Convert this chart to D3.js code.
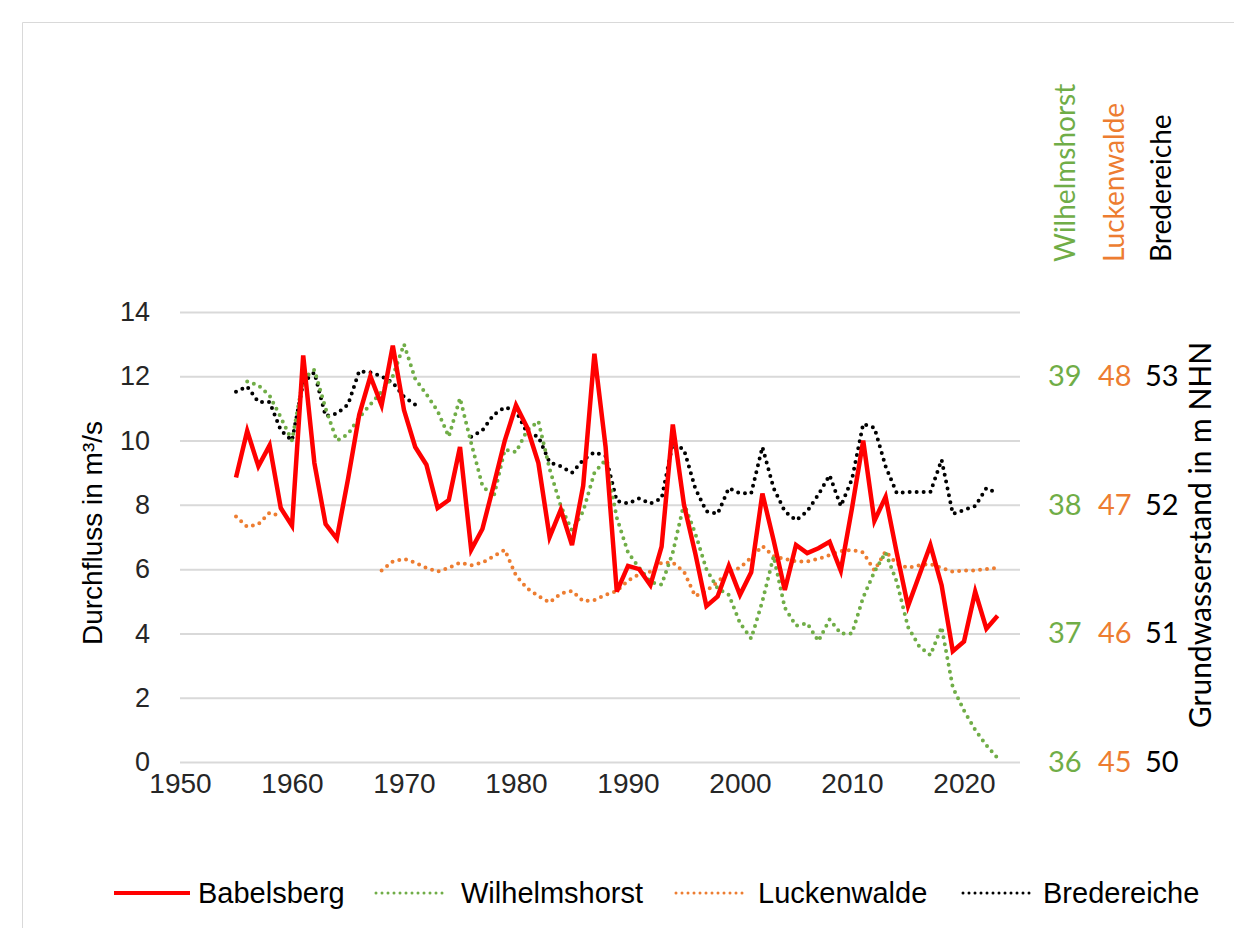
<!DOCTYPE html>
<html>
<head>
<meta charset="utf-8">
<script src="https://cdn.jsdelivr.net/npm/d3@7"></script>
<style>
  body { margin: 0; background: #fff; }
  svg { display: block; }
</style>
</head>
<body>
<script>
// Jahresmittel, 1955-2023
var years = d3.range(1955, 2024);

// Durchfluss Babelsberg in m³/s
var babelsberg = [
  8.85, 10.3, 9.2, 9.85, 7.9, 7.35, 12.65, 9.3, 7.4, 6.95,
  8.8, 10.8, 12.0, 11.1, 12.95, 10.95, 9.8, 9.25, 7.9, 8.15,
  9.8, 6.6, 7.25, 8.6, 10.0, 11.1, 10.4, 9.3, 7.0, 7.85,
  6.75, 8.6, 12.7, 9.8, 5.3, 6.1, 6.0, 5.5, 6.7, 10.5,
  8.0, 6.5, 4.85, 5.15, 6.1, 5.2, 5.9, 8.35, 6.9, 5.35,
  6.75, 6.5, 6.65, 6.85, 5.95, 7.9, 10.0, 7.5, 8.25, 6.5,
  4.85, 5.8, 6.75, 5.5, 3.45, 3.75, 5.3, 4.15, 4.55
];

// Grundwasserstand in m NHN
var wilhelmshorst = [
  null, 38.96, 38.93, 38.85, 38.68, 38.50, 38.98, 39.05, 38.75, 38.50,
  38.55, 38.68, 38.78, 38.88, 39.00, 39.25, 38.98, 38.86, 38.73, 38.53,
  38.83, 38.48, 38.15, 38.06, 38.43, 38.41, 38.58, 38.65, 38.28, 37.99,
  37.80, 37.95, 38.25, 38.35, 37.90, 37.63, 37.51, 37.40, 37.38, 37.63,
  38.01, 37.78, 37.50, 37.35, 37.30, 37.08, 36.96, 37.25, 37.60, 37.20,
  37.06, 37.08, 36.94, 37.11, 37.00, 37.00, 37.28, 37.48, 37.63, 37.40,
  37.05, 36.90, 36.83, 37.05, 36.58, 36.40, 36.25, 36.13, 36.03
];

var luckenwalde = [
  46.91, 46.83, 46.85, 46.94, 46.91, null, null, null, null, null,
  null, null, null, 46.49, 46.56, 46.58, 46.55, 46.51, 46.48, 46.51,
  46.55, 46.53, 46.55, 46.60, 46.65, 46.45, 46.35, 46.29, 46.24, 46.31,
  46.33, 46.25, 46.26, 46.30, 46.33, 46.41, 46.46, 46.48, 46.55, 46.55,
  46.48, 46.29, 46.33, 46.40, 46.48, 46.51, 46.59, 46.68, 46.60, 46.58,
  46.56, 46.56, 46.58, 46.61, 46.64, 46.65, 46.63, 46.49, 46.64, 46.54,
  46.51, 46.53, 46.54, 46.51, 46.48, 46.49, 46.49, 46.50, 46.51
];

var bredereiche = [
  52.88, 52.92, 52.80, 52.80, 52.58, 52.50, 52.95, 53.03, 52.69, 52.71,
  52.78, 53.04, 53.03, 53.00, 52.95, 52.84, 52.78, null, null, null,
  null, 52.53, 52.58, 52.70, 52.76, 52.73, 52.56, 52.53, 52.33, 52.30,
  52.25, 52.35, 52.41, 52.38, 52.03, 52.01, 52.05, 52.01, 52.05, 52.48,
  52.43, 52.13, 51.95, 51.93, 52.13, 52.09, 52.09, 52.45, 52.13, 51.95,
  51.88, 51.95, 52.08, 52.23, 51.99, 52.20, 52.63, 52.60, 52.30, 52.09,
  52.10, 52.10, 52.10, 52.35, 51.93, 51.96, 51.99, 52.13, 52.09
];

var xTicks = [1950, 1960, 1970, 1980, 1990, 2000, 2010, 2020];
var leftTicks = [0, 2, 4, 6, 8, 10, 12, 14];
var wTicks = [36, 37, 38, 39];
var lTicks = [45, 46, 47, 48];
var bTicks = [50, 51, 52, 53];
var legendNames = ["Babelsberg", "Wilhelmshorst", "Luckenwalde", "Bredereiche"];

var width = 1244;
var height = 928;
var margin = { top: 312, bottom: 166, left: 180, right: 224 };
var innerW = width - margin.left - margin.right;
var innerH = height - margin.top - margin.bottom;

var green = "#70ad47";
var orange = "#ed7d31";
var red = "#ff0000";
var arial = "Liberation Sans, Arial, sans-serif";

var svg = d3.select("body")
    .append("svg")
    .attr("width", width)
    .attr("height", height);

// feiner Rahmen wie im Original
svg.append("path")
    .attr("d", "M22.5," + height + "V22.5H" + (width - 10))
    .attr("fill", "none")
    .attr("stroke", "#d9d9d9")
    .attr("stroke-width", 1);

var chart = svg.append("g")
    .attr("transform", "translate(" + margin.left + "," + margin.top + ")");

var x = d3.scaleLinear().domain([1950, 2025]).range([0, innerW]);
var y = d3.scaleLinear().domain([0, 14]).range([innerH, 0]);
var yW = d3.scaleLinear().domain([36, 39.5]).range([innerH, 0]);
var yL = d3.scaleLinear().domain([45, 48.5]).range([innerH, 0]);
var yB = d3.scaleLinear().domain([50, 53.5]).range([innerH, 0]);

// Gitterlinien
chart.append("g")
    .attr("class", "grid")
    .call(d3.axisLeft(y).tickValues(leftTicks).tickSize(-innerW).tickFormat(""))
    .call(function (g) {
        g.select(".domain").remove();
        g.selectAll("line").attr("stroke", "#d9d9d9").attr("stroke-width", 2);
    });

// linke Achse
chart.append("g")
    .call(d3.axisLeft(y).tickValues(leftTicks).tickSize(0).tickPadding(30))
    .call(function (g) {
        g.select(".domain").remove();
        g.selectAll("text")
            .attr("fill", "#262626")
            .style("font-family", arial)
            .style("font-size", "27px");
    });

// x-Achse
chart.append("g")
    .attr("transform", "translate(0," + innerH + ")")
    .call(d3.axisBottom(x).tickValues(xTicks).tickSize(0).tickPadding(11).tickFormat(d3.format("d")))
    .call(function (g) {
        g.select(".domain").remove();
        g.selectAll("text")
            .attr("fill", "#262626")
            .style("font-family", arial)
            .style("font-size", "28px");
    });

// rechte Achsen
function rightAxis(scale, ticks, pad, color) {
    chart.append("g")
        .attr("transform", "translate(" + innerW + ",0)")
        .call(d3.axisRight(scale).tickValues(ticks).tickSize(0).tickPadding(pad).tickFormat(d3.format("d")))
        .call(function (g) {
            g.select(".domain").remove();
            g.selectAll("text")
                .attr("fill", color)
                .style("font-family", "Lato, sans-serif")
                .style("font-size", "29px");
        });
}
rightAxis(yW, wTicks, 28, green);
rightAxis(yL, lTicks, 78, orange);
rightAxis(yB, bTicks, 125, "#000");

// Achsentitel
svg.append("text")
    .attr("transform", "translate(102,533) rotate(-90)")
    .style("text-anchor", "middle")
    .style("font-family", arial)
    .style("font-size", "28px")
    .attr("fill", "#000")
    .text("Durchfluss in m³/s");

svg.append("text")
    .attr("transform", "translate(1211,535) rotate(-90)")
    .style("text-anchor", "middle")
    .style("font-family", "Lato, sans-serif")
    .style("font-size", "30px")
    .attr("fill", "#000")
    .text("Grundwasserstand  in m NHN");

var stationLabels = [
    { name: legendNames[1], x: 1075, color: green },
    { name: legendNames[2], x: 1124, color: orange },
    { name: legendNames[3], x: 1171, color: "#000" }
];
svg.selectAll(".station")
    .data(stationLabels)
    .enter()
    .append("text")
    .attr("class", "station")
    .attr("transform", function (d) { return "translate(" + d.x + ",262) rotate(-90)"; })
    .style("font-family", "Lato, sans-serif")
    .style("font-size", "28px")
    .attr("fill", function (d) { return d.color; })
    .text(function (d) { return d.name; });

// Linien
function lineFor(scale) {
    return d3.line()
        .defined(function (d) { return d.v != null; })
        .x(function (d) { return x(d.year); })
        .y(function (d) { return scale(d.v); });
}
function rows(values) {
    return years.map(function (yr, i) { return { year: yr, v: values[i] }; });
}

var dotted = "0 7";

chart.append("path")
    .datum(rows(luckenwalde))
    .attr("fill", "none")
    .attr("stroke", orange)
    .attr("stroke-width", 4)
    .attr("stroke-linecap", "round")
    .attr("stroke-dasharray", dotted)
    .attr("d", lineFor(yL));

chart.append("path")
    .datum(rows(bredereiche))
    .attr("fill", "none")
    .attr("stroke", "#000")
    .attr("stroke-width", 4)
    .attr("stroke-linecap", "round")
    .attr("stroke-dasharray", dotted)
    .attr("d", lineFor(yB));

chart.append("path")
    .datum(rows(wilhelmshorst))
    .attr("fill", "none")
    .attr("stroke", green)
    .attr("stroke-width", 4)
    .attr("stroke-linecap", "round")
    .attr("stroke-dasharray", dotted)
    .attr("d", lineFor(yW));

chart.append("path")
    .datum(rows(babelsberg))
    .attr("fill", "none")
    .attr("stroke", red)
    .attr("stroke-width", 4.5)
    .attr("stroke-linejoin", "miter")
    .attr("d", lineFor(y));

// Legende
var legendItems = [
    { name: legendNames[0], x1: 114, x2: 190, tx: 198, color: red, dash: null },
    { name: legendNames[1], x1: 376, x2: 447, tx: 461, color: green, dash: "0 6" },
    { name: legendNames[2], x1: 676, x2: 745, tx: 758, color: orange, dash: "0 6" },
    { name: legendNames[3], x1: 963, x2: 1031, tx: 1043, color: "#000", dash: "0 6" }
];
var legend = svg.append("g");
legend.selectAll("line")
    .data(legendItems)
    .enter()
    .append("line")
    .attr("x1", function (d) { return d.x1; })
    .attr("x2", function (d) { return d.x2; })
    .attr("y1", 893)
    .attr("y2", 893)
    .attr("stroke", function (d) { return d.color; })
    .attr("stroke-width", function (d) { return d.dash ? 3 : 4; })
    .attr("stroke-linecap", function (d) { return d.dash ? "round" : "butt"; })
    .attr("stroke-dasharray", function (d) { return d.dash; });

legend.selectAll("text")
    .data(legendItems)
    .enter()
    .append("text")
    .attr("x", function (d) { return d.tx; })
    .attr("y", 903)
    .style("font-family", arial)
    .style("font-size", "29px")
    .attr("fill", "#000")
    .text(function (d) { return d.name; });
</script>
</body>
</html>
